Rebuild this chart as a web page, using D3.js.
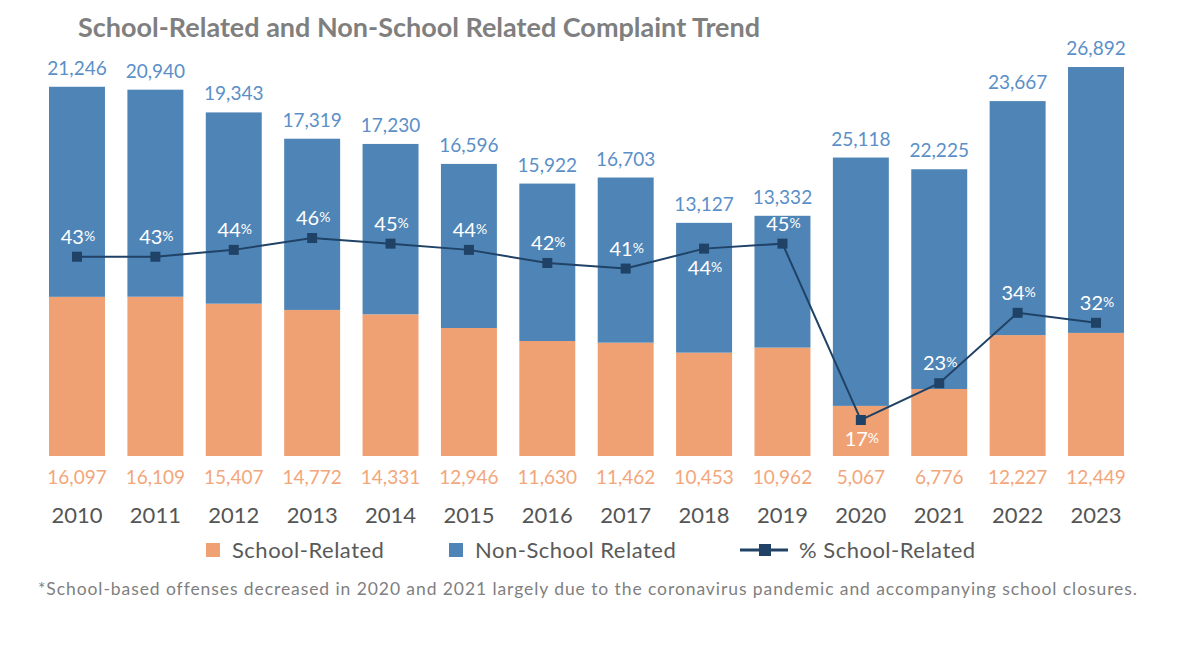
<!DOCTYPE html>
<html>
<head>
<meta charset="utf-8">
<style>
  body { margin: 0; background: #ffffff; }
  text { font-family: Lato, "Open Sans", sans-serif; }
</style>
</head>
<body>
<script src="https://cdn.jsdelivr.net/npm/d3@7"></script>
<script>
var width = 1199, height = 645;

// data
var years = ["2010", "2011", "2012", "2013", "2014", "2015", "2016",
             "2017", "2018", "2019", "2020", "2021", "2022", "2023"];
var schoolRelated = [16097, 16109, 15407, 14772, 14331, 12946, 11630,
                     11462, 10453, 10962, 5067, 6776, 12227, 12449];
var nonSchoolRelated = [21246, 20940, 19343, 17319, 17230, 16596, 15922,
                        16703, 13127, 13332, 25118, 22225, 23667, 26892];
var pctSchool = [43.0, 43.0, 44.1, 46.0, 45.1, 44.1, 42.0,
                 41.1, 44.3, 45.1, 16.8, 22.7, 34.0, 32.4];
var pctLabelBelow = ["2018", "2020"];

var colSchool = '#f0a173', colNon = '#4f85b6', colLine = '#1f4266';

var svg = d3.select('body').append('svg')
    .attr('width', width).attr('height', height);

var data = years.map(function (y, i) {
    return { year: y, school: schoolRelated[i], non: nonSchoolRelated[i], pct: pctSchool[i] };
});

var x = d3.scaleBand()
    .domain(years)
    .range([37.8, 1135.2])
    .paddingInner(0.286)
    .paddingOuter(0.143);

var y = d3.scaleLinear()
    .domain([0, 40000])
    .range([456, 456 - 395.5]);

var yPct = d3.scaleLinear()
    .domain([0, 50])
    .range([524.7, 213.1]);

var fmt = d3.format(',');
var cx = function (d) { return x(d.year) + x.bandwidth() / 2; };

// title
svg.append('text')
    .attr('x', 78).attr('y', 37)
    .attr('font-size', 27).attr('font-weight', 'bold')
    .attr('fill', '#7f7f7f')
    .text('School-Related and Non-School Related Complaint Trend');

// bars
var g = svg.append('g');
g.selectAll('rect.school')
    .data(data).enter().append('rect')
    .attr('class', 'school')
    .attr('x', function (d) { return x(d.year); })
    .attr('width', x.bandwidth())
    .attr('y', function (d) { return y(d.school); })
    .attr('height', function (d) { return y(0) - y(d.school); })
    .attr('fill', colSchool);

g.selectAll('rect.non')
    .data(data).enter().append('rect')
    .attr('class', 'non')
    .attr('x', function (d) { return x(d.year); })
    .attr('width', x.bandwidth())
    .attr('y', function (d) { return y(d.school + d.non); })
    .attr('height', function (d) { return y(d.school) - y(d.school + d.non); })
    .attr('fill', colNon);

// value labels
g.selectAll('text.nonval')
    .data(data).enter().append('text')
    .attr('x', cx)
    .attr('y', function (d) { return y(d.school + d.non) - 12; })
    .attr('text-anchor', 'middle')
    .attr('font-size', 19)
    .attr('fill', '#5a8fc8')
    .text(function (d) { return fmt(d.non); });

g.selectAll('text.schoolval')
    .data(data).enter().append('text')
    .attr('x', cx)
    .attr('y', 484)
    .attr('text-anchor', 'middle')
    .attr('font-size', 19)
    .attr('fill', '#f3a67a')
    .text(function (d) { return fmt(d.school); });

// x axis labels
var xAxis = d3.axisBottom(x).tickSize(0).tickPadding(0);
svg.append('g')
    .attr('transform', 'translate(0,507)')
    .call(xAxis)
    .call(function (a) { a.select('.domain').remove(); })
    .selectAll('text')
    .attr('font-family', 'Lato, sans-serif')
    .attr('font-size', 22)
    .attr('fill', '#555555');

// percent line
var line = d3.line()
    .x(cx)
    .y(function (d) { return yPct(d.pct); });

svg.append('path')
    .datum(data)
    .attr('d', line)
    .attr('fill', 'none')
    .attr('stroke', colLine)
    .attr('stroke-width', 2);

svg.selectAll('rect.marker')
    .data(data).enter().append('rect')
    .attr('x', function (d) { return cx(d) - 5; })
    .attr('y', function (d) { return yPct(d.pct) - 5; })
    .attr('width', 10).attr('height', 10)
    .attr('fill', colLine);

var pl = svg.selectAll('text.pct')
    .data(data).enter().append('text')
    .attr('x', function (d) { return cx(d) + 1; })
    .attr('y', function (d) {
        return pctLabelBelow.indexOf(d.year) >= 0 ? yPct(d.pct) + 26 : yPct(d.pct) - 13;
    })
    .attr('text-anchor', 'middle')
    .attr('fill', '#ffffff');
pl.append('tspan')
    .attr('font-size', 20)
    .text(function (d) { return Math.round(d.pct); });
pl.append('tspan')
    .attr('font-size', 14)
    .attr('dy', -3)
    .text('%');

// legend
var legend = svg.append('g').attr('transform', 'translate(0,550)');
var items = [
    { label: 'School-Related', color: colSchool, type: 'box', x: 206 },
    { label: 'Non-School Related', color: colNon, type: 'box', x: 449 },
    { label: '% School-Related', color: colLine, type: 'line', x: 740 }
];
var li = legend.selectAll('g').data(items).enter().append('g')
    .attr('transform', function (d) { return 'translate(' + d.x + ',0)'; });
li.filter(function (d) { return d.type === 'box'; })
    .append('rect')
    .attr('x', 0).attr('y', -7).attr('width', 14).attr('height', 14)
    .attr('fill', function (d) { return d.color; });
li.filter(function (d) { return d.type === 'line'; })
    .each(function (d) {
        var s = d3.select(this);
        s.append('line').attr('x1', 0).attr('x2', 48).attr('y1', 0).attr('y2', 0)
            .attr('stroke', d.color).attr('stroke-width', 3);
        s.append('rect').attr('x', 19).attr('y', -6).attr('width', 12).attr('height', 12)
            .attr('fill', d.color);
    });
li.append('text')
    .attr('x', function (d) { return d.type === 'box' ? 26 : 59; })
    .attr('y', 8)
    .attr('font-size', 22)
    .attr('letter-spacing', 0.5)
    .attr('fill', '#595959')
    .text(function (d) { return d.label; });

// footnote
svg.append('text')
    .attr('x', 38).attr('y', 595)
    .attr('font-size', 17.5)
    .attr('letter-spacing', 0.92)
    .attr('fill', '#7f7f7f')
    .text('*School-based offenses decreased in 2020 and 2021 largely due to the coronavirus pandemic and accompanying school closures.');
</script>
</body>
</html>
